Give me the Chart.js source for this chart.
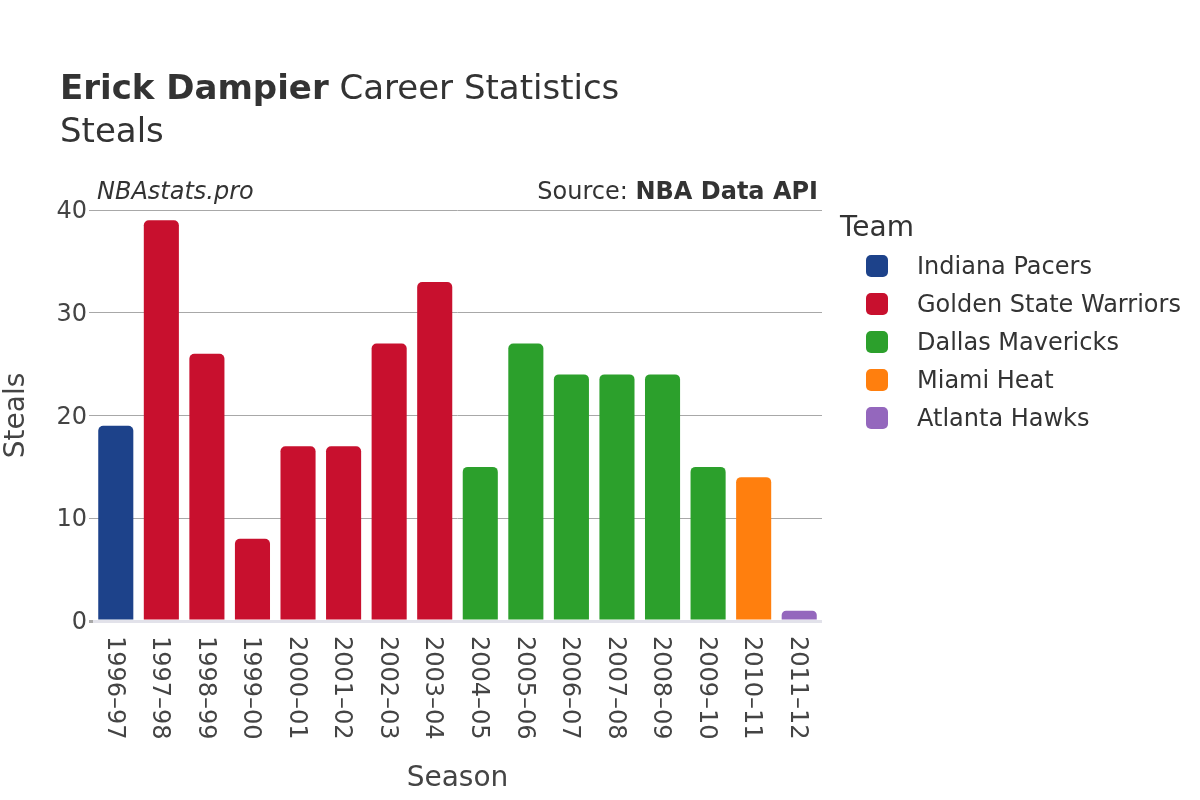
<!DOCTYPE html>
<html>
<head>
<meta charset="utf-8">
<script src="https://cdn.jsdelivr.net/npm/chart.js@4"></script>
<style>
  html, body { margin: 0; padding: 0; background: #fff; }
  #wrap { width: 1200px; height: 800px; }
</style>
</head>
<body>
<div id="wrap"><canvas id="chart" width="1200" height="800"></canvas></div>
<script>
// season labels along the x axis
const seasons = ['1996–97', '1997–98', '1998–99', '1999–00', '2000–01', '2001–02', '2002–03', '2003–04',
  '2004–05', '2005–06', '2006–07', '2007–08', '2008–09', '2009–10', '2010–11', '2011–12'];

const teams = ['Indiana Pacers', 'Golden State Warriors', 'Dallas Mavericks', 'Miami Heat', 'Atlanta Hawks'];
const teamColors = ['#1d428a', '#c8102e', '#2ca02c', '#ff7f0e', '#9467bd'];

// steals per season, null where the player wasn't on that team
const pacersSteals   = [19, null, null, null, null, null, null, null, null, null, null, null, null, null, null, null];
const warriorsSteals = [null, 39, 26, 8, 17, 17, 27, 33, null, null, null, null, null, null, null, null];
const mavsSteals     = [null, null, null, null, null, null, null, null, 15, 27, 24, 24, 24, 15, null, null];
const heatSteals     = [null, null, null, null, null, null, null, null, null, null, null, null, null, null, 14, null];
const hawksSteals    = [null, null, null, null, null, null, null, null, null, null, null, null, null, null, null, 1];

const yTicks = [0, 10, 20, 30, 40];

const FONT = "'DejaVu Sans', sans-serif";

const seriesData = [pacersSteals, warriorsSteals, mavsSteals, heatSteals, hawksSteals];

const datasets = teams.map((t, i) => ({
  label: t,
  data: seriesData[i],
  backgroundColor: teamColors[i],
  borderRadius: { topLeft: 5, topRight: 5, bottomLeft: 0, bottomRight: 0 },
  borderSkipped: 'start',
  barPercentage: 0.77,
  categoryPercentage: 1.0
}));

// draws title, source line, legend and the rotated season labels
const extrasPlugin = {
  id: 'extras',
  afterDraw(chart) {
    const ctx = chart.ctx;
    const area = chart.chartArea;
    ctx.save();

    // title
    ctx.fillStyle = '#333';
    ctx.textBaseline = 'middle';
    ctx.textAlign = 'left';
    ctx.font = 'bold 34px ' + FONT;
    const bold = 'Erick Dampier';
    ctx.fillText(bold, 60, 90);
    const bw = ctx.measureText(bold).width;
    ctx.font = '34px ' + FONT;
    ctx.fillText(' Career Statistics', 60 + bw, 90);
    ctx.fillText('Steals', 60, 133);

    // watermark + source
    ctx.font = 'italic 24px ' + FONT;
    ctx.fillText('NBAstats.pro', 97, 193);
    ctx.textAlign = 'right';
    ctx.font = 'bold 24px ' + FONT;
    const src = 'NBA Data API';
    ctx.fillText(src, 818, 193);
    const sw = ctx.measureText(src).width;
    ctx.font = '24px ' + FONT;
    ctx.fillText('Source: ', 818 - sw, 193);

    // legend
    ctx.textAlign = 'left';
    ctx.font = '28px ' + FONT;
    ctx.fillText('Team', 840, 229);
    ctx.font = '24px ' + FONT;
    chart.data.datasets.forEach((ds, i) => {
      const cy = 266 + i * 38;
      ctx.fillStyle = ds.backgroundColor;
      ctx.beginPath();
      ctx.roundRect(866, cy - 11, 22, 22, 5);
      ctx.fill();
      ctx.fillStyle = '#333';
      ctx.fillText(ds.label, 917, cy + 2);
    });

    // season labels, rotated clockwise
    const xs = chart.scales.x;
    ctx.font = '24px ' + FONT;
    ctx.fillStyle = '#444';
    ctx.textAlign = 'left';
    ctx.textBaseline = 'middle';
    chart.data.labels.forEach((lab, i) => {
      const px = xs.getPixelForValue(i);
      ctx.save();
      ctx.translate(px - 2, area.bottom + 15);
      ctx.rotate(Math.PI / 2);
      ctx.fillText(lab, 0, 0);
      ctx.restore();
    });

    ctx.restore();
  }
};

new Chart(document.getElementById('chart'), {
  type: 'bar',
  data: { labels: seasons, datasets: datasets },
  options: {
    responsive: false,
    animation: false,
    layout: { padding: { left: 0, right: 378, top: 210, bottom: 0 } },
    plugins: {
      legend: { display: false },
      title: { display: false },
      tooltip: { enabled: false }
    },
    scales: {
      x: {
        stacked: true,
        grid: { display: false },
        border: { display: false },
        ticks: { display: false },
        title: {
          display: true,
          text: 'Season',
          color: '#444',
          font: { family: FONT, size: 28 },
          padding: { top: 0, bottom: 4 }
        },
        afterFit(scale) { scale.height = 179; }
      },
      y: {
        stacked: true,
        min: 0,
        max: 40,
        afterBuildTicks(scale) { scale.ticks = yTicks.map(v => ({ value: v })); },
        ticks: {
          color: '#444',
          font: { family: FONT, size: 24 },
          padding: 2,
          labelOffset: 2
        },
        grid: {
          color: c => (c.tick && c.tick.value === 0) ? '#e2e2ea' : '#a8a8a8',
          lineWidth: c => (c.tick && c.tick.value === 0) ? 3 : 1,
          tickLength: 4,
          tickColor: '#a8a8a8'
        },
        border: { display: false },
        title: {
          display: true,
          text: 'Steals',
          color: '#444',
          font: { family: FONT, size: 28 },
          padding: { top: 0, bottom: 0 }
        },
        afterFit(scale) { scale.width = 93; }
      }
    }
  },
  plugins: [extrasPlugin]
});
</script>
</body>
</html>
